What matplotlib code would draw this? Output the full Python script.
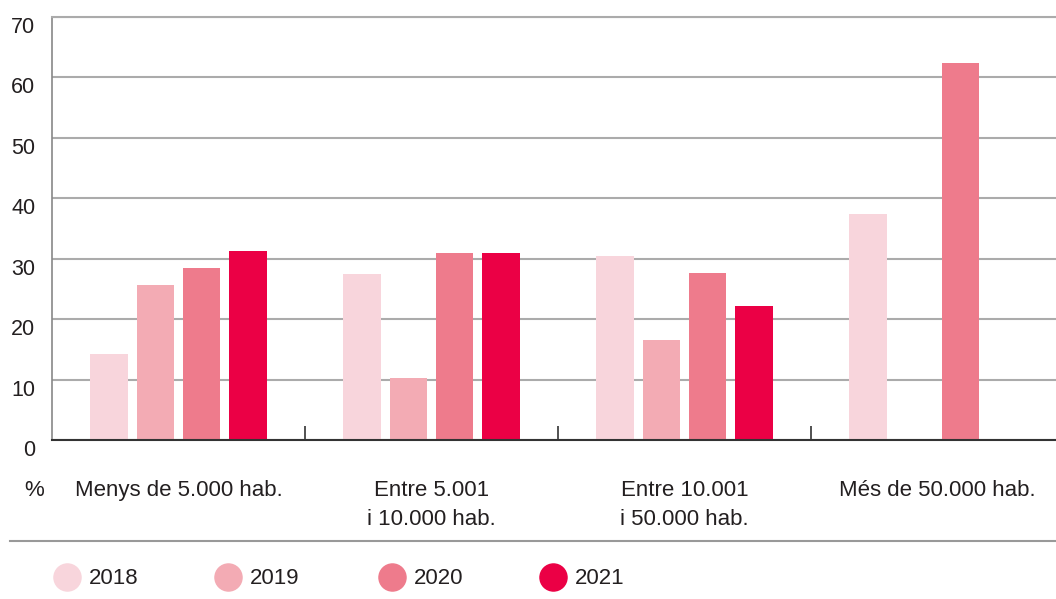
import numpy as np
import matplotlib
matplotlib.use('Agg')
import matplotlib.pyplot as plt
from matplotlib.lines import Line2D

plt.rcParams['font.family'] = ['Liberation Sans', 'DejaVu Sans']

# ---- Data
categories = ['Menys de 5.000 hab.', 'Entre 5.001\ni 10.000 hab.',
              'Entre 10.001\ni 50.000 hab.', 'Més de 50.000 hab.']
years = ['2018', '2019', '2020', '2021']
values = {
    '2018': [14.2, 27.5, 30.5, 37.4],
    '2019': [25.7, 10.3, 16.6, np.nan],
    '2020': [28.5, 31.0, 27.6, 62.4],
    '2021': [31.3, 31.0, 22.2, np.nan],
}
colors = ['#F8D5DC', '#F3ABB4', '#EE7B8C', '#EB0045']
yticks = [0, 10, 20, 30, 40, 50, 60, 70]

text_color = '#231F20'
grid_color = '#ABABAB'

W, H = 1056, 599
fig = plt.figure(figsize=(W / 100, H / 100), dpi=100)
ax = fig.add_axes([52 / W, 1 - 440 / H, (1064 - 52) / W, (440 - 17) / H])

x = np.arange(len(categories))
step, width = 0.182, 0.15
for j, yr in enumerate(years):
    ax.bar(x + (j - 1.5) * step, values[yr], width=width, color=colors[j],
           zorder=3)

ax.set_xlim(-0.5, 3.5)
ax.set_ylim(0, 70)
ax.set_yticks(yticks)
ax.set_yticklabels([str(t) for t in yticks])
for lab in ax.get_yticklabels():
    lab.set_verticalalignment('top')
ax.grid(axis='y', color=grid_color, lw=1.5, zorder=0)
ax.tick_params(axis='y', length=0, pad=12, labelsize=15.5,
               labelcolor=text_color)

# category labels on majors, separators on minors
ax.set_xticks(x)
ax.set_xticklabels(categories, linespacing=1.5)
ax.set_xticks([0.5, 1.5, 2.5], minor=True)
ax.tick_params(axis='x', which='major', length=0, pad=28.5, labelsize=16,
               labelcolor=text_color)
ax.tick_params(axis='x', which='minor', direction='in', length=10,
               width=1.2, color='#333333')

ax.spines['right'].set_visible(False)
ax.spines['top'].set_color(grid_color)
ax.spines['top'].set_linewidth(1.5)
ax.spines['left'].set_color('#888888')
ax.spines['left'].set_linewidth(1.2)
ax.spines['bottom'].set_color('#333333')
ax.spines['bottom'].set_linewidth(1.5)
ax.spines['bottom'].set_zorder(4)

fig.text(34 / W, 1 - 490 / H, '%', ha='center', va='center', fontsize=16,
         color=text_color)

# separator line above legend
fig.add_artist(Line2D([10 / W, 1], [1 - 541 / H] * 2, color='#999999',
                      lw=1.5))

# legend
leg_x = [67, 228, 392, 553]
for px, yr, c in zip(leg_x, years, colors):
    fig.add_artist(Line2D([px / W], [1 - 577 / H], marker='o',
                          markersize=19.5, color=c, lw=0))
    fig.text((px + 22) / W, 1 - 579 / H, yr, ha='left', va='center',
             fontsize=16, color=text_color)

fig.savefig('out.png', dpi=100)
